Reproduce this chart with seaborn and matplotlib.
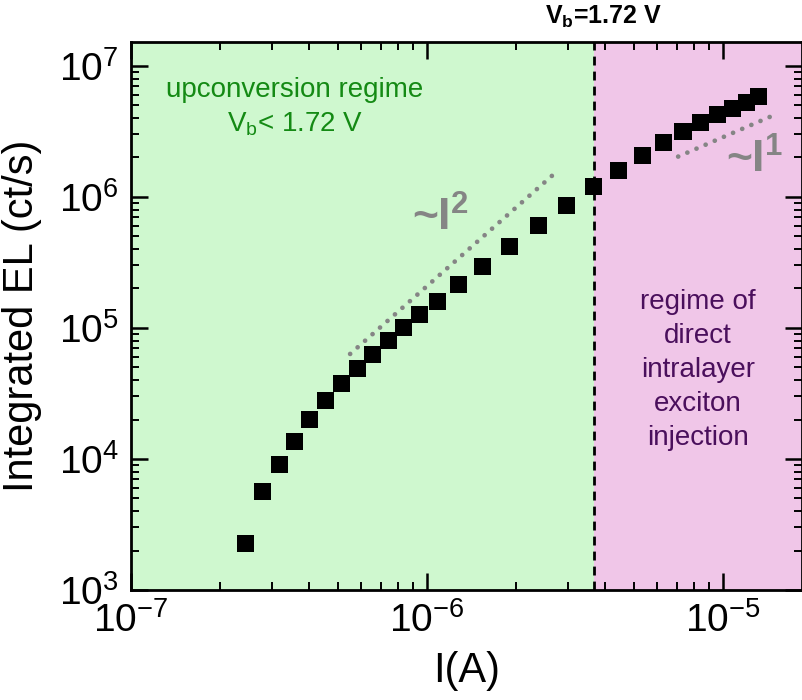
import numpy as np
import pandas as pd
import matplotlib
matplotlib.use("Agg")
import matplotlib.pyplot as plt
import seaborn as sns

# ---- data ----
current_A = [2.44e-7, 2.79e-7, 3.17e-7, 3.57e-7, 4.02e-7, 4.55e-7, 5.15e-7,
             5.81e-7, 6.57e-7, 7.40e-7, 8.36e-7, 9.47e-7, 1.083e-6, 1.276e-6,
             1.542e-6, 1.902e-6, 2.377e-6, 2.955e-6, 3.66e-6, 4.44e-6,
             5.33e-6, 6.29e-6, 7.33e-6, 8.41e-6, 9.56e-6, 1.079e-5,
             1.202e-5, 1.323e-5]
el_cts = [2270, 5600, 9110, 13700, 20100, 27900, 37600, 48900, 63000, 80500,
          100500, 125700, 158800, 212900, 293800, 416800, 603900, 858600,
          1.192e6, 1.588e6, 2.056e6, 2.597e6, 3.134e6, 3.69e6, 4.23e6,
          4.75e6, 5.245e6, 5.83e6]
quad_I = [5.50e-7, 2.69e-6]
quad_EL = [6.33e4, 1.498e6]
lin_I = [7.06e-6, 1.449e-5]
lin_EL = [2.03e6, 4.10e6]
vb_current = 3.66e-6
x_lim = [1e-7, 1.85e-5]
y_lim = [1e3, 1.52e7]

sns.set_style("ticks")
plt.rcParams["font.family"] = ["Liberation Sans", "DejaVu Sans"]
plt.rcParams["mathtext.fontset"] = "custom"
plt.rcParams["mathtext.rm"] = "Liberation Sans"
plt.rcParams["mathtext.it"] = "Liberation Sans:italic"
plt.rcParams["mathtext.bf"] = "Liberation Sans:bold"
plt.rcParams["mathtext.default"] = "regular"
plt.rcParams["text.color"] = "black"
plt.rcParams["axes.labelcolor"] = "black"
plt.rcParams["xtick.color"] = "black"
plt.rcParams["ytick.color"] = "black"

fig = plt.figure(figsize=(8.02, 7.00), dpi=100)
ax = fig.add_axes([131 / 802, 1 - 590 / 700, 671 / 802, 548 / 700])

green = "#cff8cf"
pink = "#f0c6e8"
ax.axvspan(x_lim[0], vb_current, color=green, lw=0, zorder=0)
ax.axvspan(vb_current, x_lim[1], color=pink, lw=0, zorder=0)
ax.axvline(vb_current, color="black", lw=2.0, linestyle=(0, (3.2, 2.2)), zorder=1)

df = pd.DataFrame({"I": current_A, "EL": el_cts})
sns.scatterplot(data=df, x="I", y="EL", marker="s", s=150, color="black",
                edgecolor="none", linewidth=0, ax=ax, zorder=3, legend=False)

gray = "#858585"
for xs, ys in [(quad_I, quad_EL), (lin_I, lin_EL)]:
    ax.plot(xs, ys, color=gray, lw=3.4, linestyle=(0, (0.01, 2.1)),
            dash_capstyle="round", solid_capstyle="round", zorder=2)

ax.set_xscale("log")
ax.set_yscale("log")
ax.set_xlim(x_lim)
ax.set_ylim(y_lim)

for s in ax.spines.values():
    s.set_linewidth(2.0)
    s.set_color("black")
ax.tick_params(which="major", direction="in", length=12, width=1.8,
               top=True, right=True, labelsize=28, pad=9, colors="black")
ax.tick_params(which="minor", direction="in", length=6, width=1.4,
               top=True, right=True, colors="black")

ax.set_xlabel("I(A)", fontsize=30, labelpad=8)
ax.set_ylabel("Integrated EL (ct/s)", fontsize=30, labelpad=12)

tr = ax.transAxes
ax.text(0.244, 0.912, "upconversion regime", transform=tr, color="#148a14",
        fontsize=20, ha="center", va="center")
ax.text(0.244, 0.849, "V$_b$< 1.72 V", transform=tr, color="#148a14",
        fontsize=20, ha="center", va="center")
ax.text(0.845, 0.401, "regime of\ndirect\nintralayer\nexciton\ninjection",
        transform=tr, color="#4a0f5c", fontsize=20, ha="center", va="center",
        linespacing=1.4)
ax.text(0.4605, 0.679, "~I$^{2}$", transform=tr, color=gray, fontsize=32,
        fontweight="bold", ha="center", va="center")
ax.text(0.93, 0.785, "~I$^{1}$", transform=tr, color=gray, fontsize=32,
        fontweight="bold", ha="center", va="center")
ax.text(0.7035, 1.046, r"V$_{\mathbf{b}}$=1.72 V", transform=tr, color="black",
        fontsize=18, fontweight="bold", ha="center", va="center")

fig.savefig("out.png", dpi=100)
